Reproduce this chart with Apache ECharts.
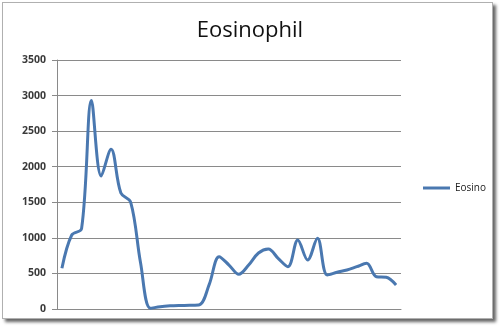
<!DOCTYPE html>
<html>
<head>
<meta charset="utf-8">
<script src="https://cdn.jsdelivr.net/npm/echarts@6/dist/echarts.min.js"></script>
<style>
html,body{margin:0;padding:0;background:#fff;}
#frame{position:absolute;left:2px;top:2px;width:489px;height:315px;border:1px solid #b0b0b0;box-shadow:3px 3px 3px #666;background:#fff;}
#chart{position:absolute;left:0;top:0;width:500px;height:326px;}
</style>
</head>
<body>
<div id="frame"></div>
<div id="chart"></div>
<script>
const titleText = "Eosinophil";
const seriesName = "Eosino";
const categories = Array.from({length: 35}, (_, i) => String(i + 1));
const eosinoValues = [572, 1040, 1130, 2930, 1870, 2245, 1630, 1500, 650, 10,
  33, 45, 50, 52, 60, 350, 735, 618, 488, 618,
  787, 843, 712, 595, 970, 689, 994, 478, 516, 548,
  595, 642, 454, 446, 337];
const yMin = 0, yMax = 3500, yStep = 500;

const chart = echarts.init(document.getElementById('chart'), null, {renderer: 'canvas'});
chart.setOption({
  backgroundColor: 'transparent',
  animation: false,
  title: {
    text: titleText, left: 'center', top: 15,
    textStyle: {fontFamily: 'Open Sans', fontSize: 22, fontWeight: 'normal', color: '#111'}
  },
  legend: {
    data: [seriesName], left: 418, top: 178, itemWidth: 27, itemHeight: 3, itemGap: 4,
    icon: 'rect',
    textStyle: {fontFamily: 'Open Sans', fontSize: 10, color: '#222'}
  },
  grid: {left: 57, right: 99, top: 60, bottom: 17, containLabel: false},
  xAxis: {
    type: 'category', data: categories, boundaryGap: true,
    axisLine: {lineStyle: {color: '#8a8a8a', width: 1}},
    axisTick: {show: false}, axisLabel: {show: false}
  },
  yAxis: {
    type: 'value', min: yMin, max: yMax, interval: yStep,
    axisLine: {show: true, lineStyle: {color: '#8a8a8a', width: 1}},
    axisTick: {show: true, length: 5, inside: false, lineStyle: {color: '#8a8a8a'}},
    axisLabel: {margin: 11, fontFamily: 'Open Sans', fontSize: 10.5, fontWeight: 'bold', color: '#3a3a3a',
      formatter: v => String(v)},
    splitLine: {lineStyle: {color: '#8a8a8a', width: 1}}
  },
  series: [{
    name: seriesName, type: 'line', data: eosinoValues, smooth: 0.35,
    symbol: 'none', lineStyle: {color: '#4a78b0', width: 3},
    itemStyle: {color: '#4a78b0'}
  }]
});
</script>
</body>
</html>
